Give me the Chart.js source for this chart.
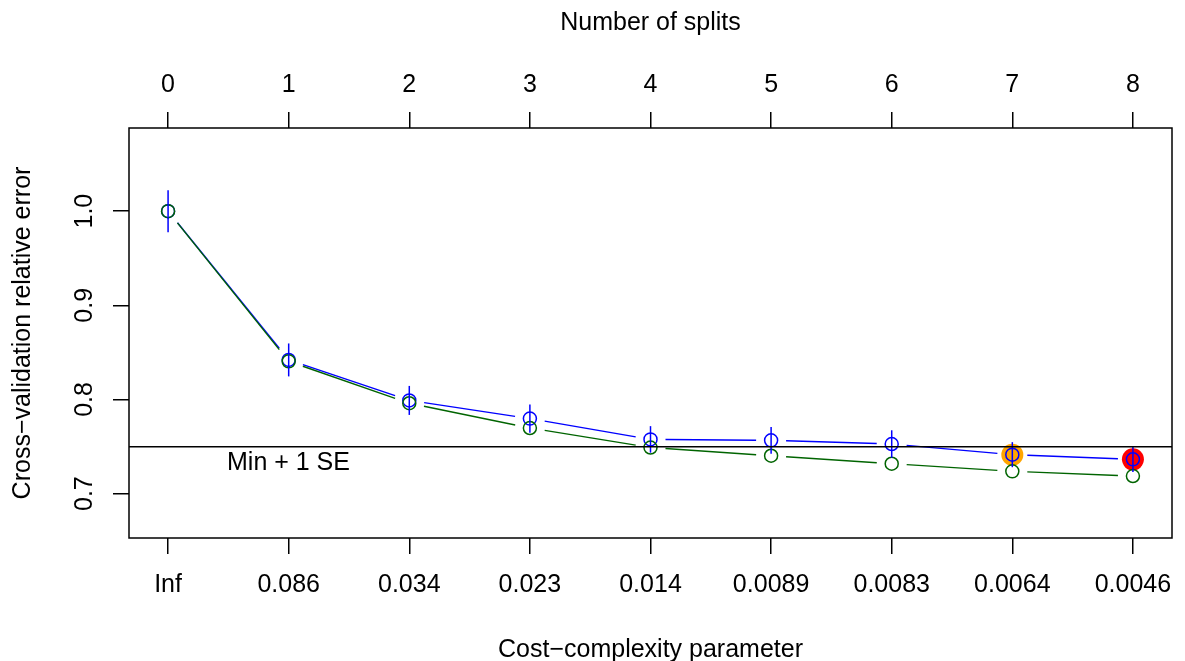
<!DOCTYPE html>
<html>
<head>
<meta charset="utf-8">
<script src="https://cdn.jsdelivr.net/npm/chart.js@4.4.1/dist/chart.umd.min.js"></script>
<style>
html,body{margin:0;padding:0;background:#fff;}
#wrap{width:1185px;height:661px;}
</style>
</head>
<body>
<div id="wrap"><canvas id="c" width="1185" height="661"></canvas></div>
<script>
// ---- data ----
const nSplits = [0, 1, 2, 3, 4, 5, 6, 7, 8];
const cpLabels = ["Inf", "0.086", "0.034", "0.023", "0.014", "0.0089", "0.0083", "0.0064", "0.0046"];
const xError = [1.000, 0.8420, 0.7990, 0.7797, 0.7576, 0.7566, 0.7527, 0.7414, 0.7364];
const xStd   = [0.0223, 0.0175, 0.0154, 0.0150, 0.0141, 0.0141, 0.0146, 0.0133, 0.0133];
const relError = [1.000, 0.8405, 0.7960, 0.7697, 0.7490, 0.7403, 0.7318, 0.7237, 0.7187];
const yTicks = [0.7, 0.8, 0.9, 1.0];
const minPlus1SE = 0.7497;
const orangeIdx = 7;
const redIdx = 8;

const FONT = "'Liberation Sans', Arial, Helvetica, sans-serif";
const FS = 25;

const toXY = (arr) => arr.map((v, i) => ({x: nSplits[i], y: v}));

const extras = {
  id: 'extras',
  beforeDatasetsDraw(chart) {
    const {ctx, chartArea: a, scales: {x, y}} = chart;
    ctx.save();
    ctx.beginPath();
    ctx.rect(a.left, a.top, a.right - a.left, a.bottom - a.top);
    ctx.clip();
    const drawSeg = (vals, color) => {
      ctx.strokeStyle = color;
      ctx.lineWidth = 1.4;
      for (let i = 0; i < vals.length - 1; i++) {
        const x1 = x.getPixelForValue(nSplits[i]), y1 = y.getPixelForValue(vals[i]);
        const x2 = x.getPixelForValue(nSplits[i + 1]), y2 = y.getPixelForValue(vals[i + 1]);
        const dx = x2 - x1, dy = y2 - y1, L = Math.hypot(dx, dy);
        const g = 15;
        if (L <= 2 * g) continue;
        const ux = dx / L, uy = dy / L;
        ctx.beginPath();
        ctx.moveTo(x1 + ux * g, y1 + uy * g);
        ctx.lineTo(x2 - ux * g, y2 - uy * g);
        ctx.stroke();
      }
    };
    drawSeg(xError, '#0000FF');
    drawSeg(relError, '#006400');
    ctx.restore();
  },
  afterDatasetsDraw(chart) {
    const {ctx, chartArea: a, scales: {x, y}} = chart;
    ctx.save();
    // error bars
    ctx.strokeStyle = '#0000FF';
    ctx.lineWidth = 1.5;
    for (let i = 0; i < xError.length; i++) {
      const px = x.getPixelForValue(nSplits[i]);
      ctx.beginPath();
      ctx.moveTo(px, y.getPixelForValue(xError[i] + xStd[i]));
      ctx.lineTo(px, y.getPixelForValue(xError[i] - xStd[i]));
      ctx.stroke();
    }
    // min + 1 SE line
    const ly = y.getPixelForValue(minPlus1SE);
    ctx.strokeStyle = '#000';
    ctx.lineWidth = 1.5;
    ctx.beginPath();
    ctx.moveTo(a.left, ly);
    ctx.lineTo(a.right, ly);
    ctx.stroke();
    ctx.fillStyle = '#000';
    ctx.font = FS + 'px ' + FONT;
    ctx.textAlign = 'left';
    ctx.textBaseline = 'top';
    ctx.fillText('Min + 1 SE', 227, ly + 4);
    // frame
    ctx.lineWidth = 1.5;
    ctx.strokeRect(a.left, a.top, a.right - a.left, a.bottom - a.top);
    // rotated y tick labels
    ctx.textAlign = 'center';
    ctx.textBaseline = 'middle';
    for (const v of yTicks) {
      ctx.save();
      ctx.translate(85, y.getPixelForValue(v));
      ctx.rotate(-Math.PI / 2);
      ctx.fillText(v.toFixed(1), 0, 0);
      ctx.restore();
    }
    // axis titles
    ctx.save();
    ctx.translate(23, (a.top + a.bottom) / 2);
    ctx.rotate(-Math.PI / 2);
    ctx.fillText('Cross\u2212validation relative error', 0, 0);
    ctx.restore();
    ctx.fillText('Number of splits', (a.left + a.right) / 2, 23);
    ctx.fillText('Cost\u2212complexity parameter', (a.left + a.right) / 2, 650);
    ctx.restore();
  }
};

const tickGrid = {display: true, drawOnChartArea: false, drawTicks: true, tickLength: 16, color: '#000', lineWidth: 1.5};
const fitX = (h) => (s) => { s.height = h; s.paddingLeft = 0; s.paddingRight = 0; };

new Chart(document.getElementById('c'), {
  type: 'scatter',
  data: {
    datasets: [
      {label: 'relError', data: toXY(relError), showLine: false, pointRadius: 6.5, pointBorderWidth: 1.5,
       pointBorderColor: '#006400', pointBackgroundColor: 'rgba(0,0,0,0)'},
      {label: 'xError', data: toXY(xError), showLine: false, pointRadius: 6.5, pointBorderWidth: 1.5,
       pointBorderColor: '#0000FF', pointBackgroundColor: 'rgba(0,0,0,0)'},
      {label: 'chosen', data: [{x: nSplits[orangeIdx], y: xError[orangeIdx]}], showLine: false, pointRadius: 11,
       pointBorderWidth: 0, pointBackgroundColor: '#FFA500', pointBorderColor: '#FFA500'},
      {label: 'min', data: [{x: nSplits[redIdx], y: xError[redIdx]}], showLine: false, pointRadius: 11,
       pointBorderWidth: 0, pointBackgroundColor: '#FF0000', pointBorderColor: '#FF0000'}
    ]
  },
  options: {
    responsive: false,
    animation: false,
    devicePixelRatio: 1,
    layout: {padding: {left: 0, right: 13, top: 0, bottom: 0}},
    plugins: {legend: {display: false}, tooltip: {enabled: false}},
    scales: {
      x: {
        type: 'linear', position: 'bottom', min: -0.324, max: 8.324,
        afterBuildTicks: (s) => { s.ticks = nSplits.map(v => ({value: v})); },
        afterFit: fitX(123),
        grid: tickGrid,
        border: {display: false},
        ticks: {autoSkip: false, maxRotation: 0, minRotation: 0, padding: 16, color: '#000',
                font: {family: FONT, size: FS}, callback: (v) => cpLabels[nSplits.indexOf(v)]}
      },
      xTop: {
        type: 'linear', position: 'top', min: -0.324, max: 8.324,
        afterBuildTicks: (s) => { s.ticks = nSplits.map(v => ({value: v})); },
        afterFit: fitX(128),
        grid: tickGrid,
        border: {display: false},
        ticks: {autoSkip: false, maxRotation: 0, minRotation: 0, padding: 12, color: '#000',
                font: {family: FONT, size: FS}, callback: (v) => String(v)}
      },
      y: {
        type: 'linear', position: 'left', min: 0.6529, max: 1.0883,
        afterBuildTicks: (s) => { s.ticks = yTicks.map(v => ({value: v})); },
        afterFit: (s) => { s.width = 129; s.paddingTop = 0; s.paddingBottom = 0; },
        grid: tickGrid,
        border: {display: false},
        ticks: {display: false}
      }
    }
  },
  plugins: [extras]
});
</script>
</body>
</html>
